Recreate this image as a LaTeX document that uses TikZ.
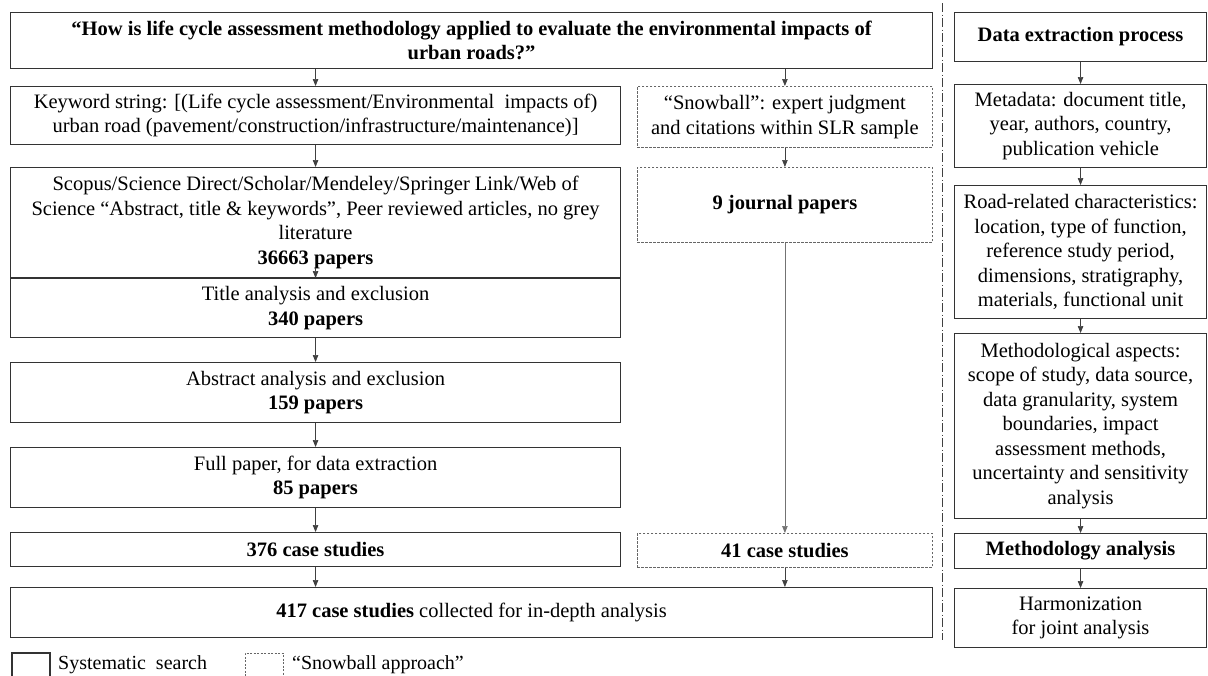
\documentclass[tikz,border=0pt]{standalone}
\usepackage{fontspec}
\setmainfont{Liberation Serif}
\usetikzlibrary{arrows.meta}

\begin{document}
\begin{tikzpicture}[x=1pt,y=-1pt,
	box/.style={draw=black!80,line width=1.1pt,inner sep=0pt,align=center,anchor=north west,font=\fontsize{20.5}{24.5}\selectfont},
	snow/.style={box,draw=black!60,line width=0.8pt,dash pattern=on 2.5pt off 1.5pt},
	arr/.style={draw=black!75,line width=0.7pt,-{Triangle[length=7pt,width=5.5pt]}},
	sep/.style={draw=black!75,line width=0.8pt,dash pattern=on 9pt off 2.5pt on 1pt off 2.5pt},
	legend/.style={anchor=west,inner sep=0pt,font=\fontsize{20}{24}\selectfont}]
	\useasboundingbox (0,0) rectangle (1208,675);
	% left and middle column
	\node[box,minimum width=922,minimum height=56,font=\fontsize{20.5}{24}\selectfont\bfseries] (q) at (10,12)
		{“How is life cycle assessment methodology applied to evaluate the environmental impacts of\\urban roads?”};
	\node[box,minimum width=610,minimum height=58] (kw) at (10,86)
		{Keyword string: [(Life cycle assessment/Environmental\ \ impacts of)\\urban road (pavement/construction/infrastructure/maintenance)]};
	\node[snow,minimum width=295,minimum height=61] (sb) at (637,86)
		{“Snowball”: expert judgment\\and citations within SLR sample};
	\node[box,minimum width=610,minimum height=110] (db) at (10,167)
		{Scopus/Science Direct/Scholar/Mendeley/Springer Link/Web of\\Science “Abstract, title \& keywords”, Peer reviewed articles, no grey\\literature\\\textbf{36663 papers}};
	\node[snow,minimum width=295,minimum height=75] (jp) at (637,167) {\textbf{9 journal papers}};
	\node[box,minimum width=610,minimum height=59] (title) at (10,278) {Title analysis and exclusion\\\textbf{340 papers}};
	\node[box,minimum width=610,minimum height=60] (abs) at (10,362) {Abstract analysis and exclusion\\\textbf{159 papers}};
	\node[box,minimum width=610,minimum height=60] (full) at (10,447) {Full paper, for data extraction\\\textbf{85 papers}};
	\node[box,minimum width=610,minimum height=34] (cs1) at (10,532) {\textbf{376 case studies}};
	\node[snow,minimum width=295,minimum height=34] (cs2) at (637,533) {\textbf{41 case studies}};
	\node[box,minimum width=922,minimum height=50] (all) at (10,587) {\textbf{417 case studies} collected for in-depth analysis};
	% data extraction column
	\node[box,minimum width=252,minimum height=49,font=\fontsize{20.5}{24.5}\selectfont\bfseries] (dep) at (954,12) {Data extraction process};
	\node[box,minimum width=252,minimum height=83] (meta) at (954,84)
		{Metadata: document title,\\year, authors, country,\\publication vehicle};
	\node[box,minimum width=252,minimum height=133] (road) at (954,185)
		{Road-related characteristics:\\location, type of function,\\reference study period,\\dimensions, stratigraphy,\\materials, functional unit};
	\node[box,minimum width=252,minimum height=185] (meth) at (954,333)
		{Methodological aspects:\\scope of study, data source,\\data granularity, system\\boundaries, impact\\assessment methods,\\uncertainty and sensitivity\\analysis};
	\node[box,minimum width=252,minimum height=35] (ma) at (954,533) {\textbf{Methodology analysis}};
	\node[box,minimum width=252,minimum height=59] (harm) at (954,588) {Harmonization\\for joint analysis};
	% arrows
	\draw[arr] (kw.north |- q.south) -- (kw.north);
	\draw[arr] (sb.north |- q.south) -- (sb.north);
	\draw[arr] (kw.south) -- (db.north);
	\draw[arr] (sb.south) -- (jp.north);
	\draw[arr] ([yshift=10pt]db.south) -- (title.north);
	\draw[arr] (title.south) -- (abs.north);
	\draw[arr] (abs.south) -- (full.north);
	\draw[arr] (full.south) -- (cs1.north);
	\draw[arr] (cs1.south) -- (cs1.south |- all.north);
	\draw[arr,draw=black!55] (jp.south) -- (cs2.north);
	\draw[arr] (cs2.south) -- (cs2.south |- all.north);
	\draw[arr] (dep.south) -- (meta.north);
	\draw[arr] (meta.south) -- (road.north);
	\draw[arr] (road.south) -- (meth.north);
	\draw[arr] (meth.south) -- (ma.north);
	\draw[arr] (ma.south) -- (harm.north);
	% divider
	\coordinate (top) at (942,3);
	\coordinate (bot) at (942,640);
	\draw[sep] (top) -- (bot);
	% legend
	\draw[draw=black!80,line width=1.1pt] (12,676) -- (12,653) -- (50,653) -- (50,676);
	\node[legend] (lsys) at (58,665) {Systematic\ \ search};
	\draw[draw=black!60,line width=0.8pt,dash pattern=on 2pt off 1.5pt] (245,676) -- (245,653) -- (283,653) -- (283,676);
	\node[legend] (lsnow) at (292,665) {“Snowball approach”};
\end{tikzpicture}
\end{document}
